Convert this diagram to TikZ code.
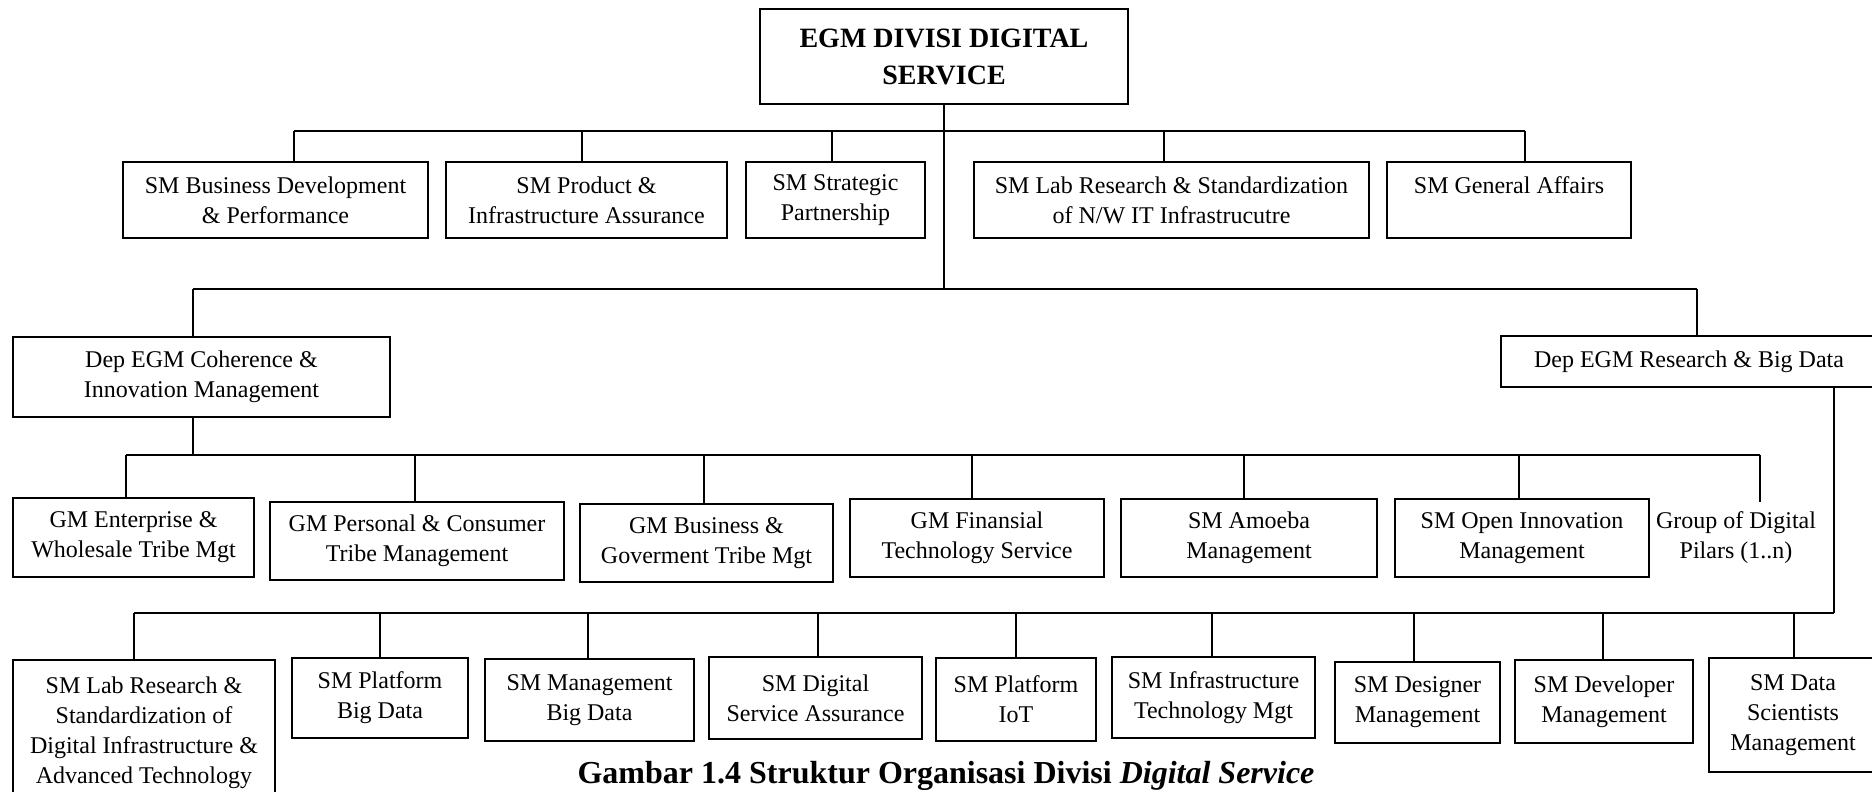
\documentclass[tikz,border=0pt]{standalone}
\usepackage{fontspec}
\setmainfont{Liberation Serif}
\newcommand\obox[7][box]{\node[#1,minimum width={(#5-#3)*1pt},minimum height={(#6-#4)*1pt}] (#2) at ({(#3+#5)/2},{(#4+#6)/2}) {#7};}
\begin{document}
\begin{tikzpicture}[x=1pt,y=-1pt,
  box/.style={draw,line width=2.9pt,inner sep=0pt,align=center,font=\fontsize{24}{30}\selectfont},
  topbox/.style={box,font=\fontsize{28}{37}\selectfont\bfseries},
  plain/.style={inner sep=0pt,align=center,font=\fontsize{24}{30}\selectfont},
  conn/.style={line width=2.6pt}]
\useasboundingbox (0,0) rectangle (1872,792);
\clip (0,0) rectangle (1872,792);
\fill[white] (0,0) rectangle (1872,792);

% top
\obox[topbox]{egm}{760}{9}{1128}{104}{EGM DIVISI DIGITAL\\SERVICE}

% row 1
\obox{b1}{123}{162}{428}{238}{SM Business Development\\\& Performance}
\obox{b2}{446}{162}{727}{238}{SM Product \&\\Infrastructure Assurance}
\obox{b3}{746}{162}{925}{238}{SM Strategic\\Partnership}
\obox{b4}{974}{162}{1369}{238}{SM Lab Research \& Standardization\\of N/W IT Infrastrucutre}
\obox{b5}{1387}{162}{1631}{238}{SM General Affairs\\\mbox{}}

% row 2
\obox{dc}{13}{337}{390}{417}{Dep EGM Coherence \&\\Innovation Management}
\obox{dr}{1501}{336}{1877}{387}{Dep EGM Research \& Big Data}

% row 3
\obox{g1}{13}{498}{254}{577}{GM Enterprise \&\\Wholesale Tribe Mgt}
\obox{g2}{270}{502}{564}{580}{GM Personal \& Consumer\\Tribe Management}
\obox{g3}{580}{504}{833}{582}{GM Business \&\\Goverment Tribe Mgt}
\obox{g4}{850}{499}{1104}{577}{GM Finansial\\Technology Service}
\obox{g5}{1121}{499}{1377}{577}{SM Amoeba\\Management}
\obox{g6}{1395}{499}{1649}{577}{SM Open Innovation\\Management}
\node[plain] (g7) at (1736,538) {Group of Digital\\Pilars (1..n)};

% row 4
\obox{s1}{13}{660}{275}{805}{SM Lab Research \&\\Standardization of\\Digital Infrastructure \&\\Advanced Technology}
\obox{s2}{292}{658}{468}{738}{SM Platform\\Big Data}
\obox{s3}{485}{659}{694}{741}{SM Management\\Big Data}
\obox{s4}{709}{657}{922}{739}{SM Digital\\Service Assurance}
\obox{s5}{936}{658}{1096}{741}{SM Platform\\IoT}
\obox{s6}{1112}{657}{1315}{738}{SM Infrastructure\\Technology Mgt}
\obox{s7}{1335}{662}{1500}{743}{SM Designer\\Management}
\obox{s8}{1515}{660}{1693}{743}{SM Developer\\Management}
\obox{s9}{1709}{658}{1877}{772}{SM Data\\Scientists\\Management}

% caption
\node[anchor=base,inner sep=0pt,font=\fontsize{32}{38}\selectfont\bfseries] (cap) at (946,783) {Gambar 1.4 Struktur Organisasi Divisi \textit{Digital Service}};

% bus coordinates
\coordinate (j11) at (294,131);
\coordinate (j12) at (582,131);
\coordinate (j13) at (832,131);
\coordinate (j14) at (1164,131);
\coordinate (j15) at (1525,131);
\coordinate (j21) at (193,289);
\coordinate (j22) at (1697,289);
\coordinate (j31) at (126,455);
\coordinate (j32) at (415,455);
\coordinate (j33) at (704,455);
\coordinate (j34) at (972,455);
\coordinate (j35) at (1244,455);
\coordinate (j36) at (1519,455);
\coordinate (j37) at (1760,455);
\coordinate (g7top) at (1760,502);
\coordinate (j41) at (134,613);
\coordinate (j42) at (380,613);
\coordinate (j43) at (588,613);
\coordinate (j44) at (818,613);
\coordinate (j45) at (1016,613);
\coordinate (j46) at (1212,613);
\coordinate (j47) at (1414,613);
\coordinate (j48) at (1603,613);
\coordinate (j49) at (1794,613);
\coordinate (j4r) at (1834,613);

% connectors
\draw[conn] (egm.south) -- (egm.south |- j21);
\draw[conn] (j11) -- (j15);
\foreach \j/\b in {j11/b1,j12/b2,j13/b3,j14/b4,j15/b5}
  \draw[conn] (\j) -- (\j |- \b.north);
\draw[conn] (j21) -- (j22);
\draw[conn] (j21) -- (j21 |- dc.north);
\draw[conn] (j22) -- (j22 |- dr.north);
\draw[conn] (j21 |- dc.south) -- (j21 |- j31);
\draw[conn] (j31) -- (j37);
\foreach \j/\b in {j31/g1,j32/g2,j33/g3,j34/g4,j35/g5,j36/g6}
  \draw[conn] (\j) -- (\j |- \b.north);
\draw[conn] (j37) -- (g7top);
\draw[conn] (j4r |- dr.south) -- (j4r);
\draw[conn] (j41) -- (j4r);
\foreach \j/\b in {j41/s1,j42/s2,j43/s3,j44/s4,j45/s5,j46/s6,j47/s7,j48/s8,j49/s9}
  \draw[conn] (\j) -- (\j |- \b.north);
\end{tikzpicture}
\end{document}
